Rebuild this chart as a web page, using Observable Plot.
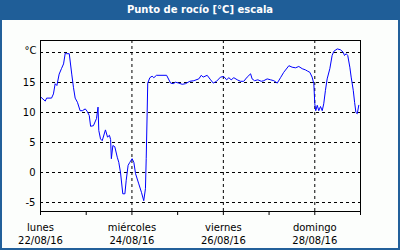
<!DOCTYPE html>
<html>
<head>
<meta charset="utf-8">
<script src="https://cdn.jsdelivr.net/npm/d3@7"></script>
<script src="https://cdn.jsdelivr.net/npm/@observablehq/plot@0.6"></script>
<style>
  html, body { margin: 0; padding: 0; background: #fff; }
  #frame { position: absolute; left: 0; top: 0; width: 400px; height: 250px; box-sizing: border-box;
           border: 2px solid #22609a; background: #fcfefc; }
  #title { position: absolute; left: 0; top: 0; width: 400px; height: 20px; background: #1f5e98;
           color: #fff; font: bold 10px "DejaVu Sans"; line-height: 20px; text-align: center; }
  #chart { position: absolute; left: 0; top: 20px; }
</style>
</head>
<body>
<div id="frame"></div>
<div id="title">Punto de rocío [°C] escala</div>
<div id="chart"></div>
<script>
// Hours since 22/08/16 00:00 and dew point values (°C)
const hours = [0.4, 2.5, 3.2, 5.8, 6.8, 7.7, 8.6, 9.8, 11, 12.1, 13, 13.7, 15.1, 16.4, 17.3, 18.2, 19.4, 20.8, 22, 23.5,
  24.5, 25.6, 26.3, 27.8, 29.4, 30.2, 30.6, 31.5, 32.4, 34.1, 35.2, 36.2, 36.8, 37.2, 38.0, 39.0, 40.3, 41.1, 42, 43.2,
  44.3, 45, 46, 46.9, 48.1, 49, 49.9, 51.6, 53, 54.2, 55.1, 55.5, 56, 56.3, 57.4, 58.6, 59.5, 60.9, 66.2, 68.3,
  69.7, 70.9, 72.6, 74.4, 76.1, 78.4, 80.5, 83.1, 84.4, 85.4, 87.5, 89.3, 90.7, 92.4, 94.5, 96.2, 97.7, 98.9, 100.1, 101.5,
  103.3, 105, 106.7, 108.5, 110.3, 111.1, 112.4, 114.1, 115.9, 117.2, 119, 120.8, 122.5, 124.3, 126, 127.7, 130.4, 132.1, 133.9, 135.6,
  137.4, 139.1, 140.2, 141.4, 142.6, 143.5, 144, 144.5, 145.3, 146.1, 147, 147.9, 148.7, 149.6, 150.5, 151.9, 153.1, 154, 155.8, 157.5,
  158.9, 159.6, 160.5, 161.3, 162.4, 163.1, 164.2, 164.9, 165.6, 166.3, 167.1];
const values = [12.5, 11.9, 12.4, 12.4, 13.1, 14.8, 14.5, 16.4, 17.3, 18.1, 19.9, 19.8, 19.8, 16.4, 14.2, 12.4, 11.7, 10.3, 10.3, 10.6,
  10.2, 9.5, 7.7, 7.8, 9.0, 10.9, 7.0, 5.6, 5.3, 7.1, 5.9, 6.2, 5.5, 2.3, 4.5, 4.3, 2.55, 1.7, 0, -3.55,
  -3.55, -1.3, 1.2, 1.7, 2.3, 1.7, -0.2, -1.9, -3.3, -4.7, -2.7, 2.3, 10.0, 14.9, 15.8, 16.05, 15.8, 16.2, 16.2, 14.9,
  14.8, 15.05, 14.9, 14.7, 14.8, 15.2, 15.3, 15.6, 16.2, 15.9, 16.2, 15.45, 14.9, 15.2, 15.9, 16.0, 15.45, 15.8, 15.45, 15.8,
  15.45, 15.2, 15.2, 15.9, 16.45, 15.6, 15.3, 15.45, 15.2, 15.3, 15.6, 15.45, 15.3, 14.9, 15.8, 16.7, 17.8, 17.55, 17.45, 17.67,
  17.3, 17.1, 16.9, 16.7, 15.9, 14.8, 11.45, 10.3, 11.2, 10.3, 11.0, 10.3, 11.45, 13.7, 15.6, 17.3, 19.5, 20.2, 20.6, 20.45,
  20.05, 19.5, 19.8, 19.5, 17.55, 15.9, 13.7, 11.7, 10.0, 9.8, 11.2];

const weekdays = ["lunes", "miércoles", "viernes", "domingo"];
const dates = ["22/08/16", "24/08/16", "26/08/16", "28/08/16"];
const gridTicks = [-5, 0, 5, 10, 15, 20];
const yLabelTicks = [-5, 0, 5, 10, 15];

const t0 = Date.UTC(2016, 7, 22);
const day = 86400e3;
const data = hours.map((h, i) => ({date: new Date(t0 + h * 3600e3), v: values[i]}));
const allDays = d3.range(0, 8).map(k => new Date(t0 + k * day));
const labelDays = [0, 2, 4, 6].map(k => new Date(t0 + k * day));
const gridDays = [2, 4, 6].map(k => new Date(t0 + k * day));
const wdMap = new Map(labelDays.map((d, i) => [+d, weekdays[i]]));
const dtMap = new Map(labelDays.map((d, i) => [+d, dates[i]]));

const chart = Plot.plot({
  width: 400,
  height: 230,
  marginTop: 20,
  marginLeft: 40,
  marginRight: 40,
  marginBottom: 39,
  x: {type: "utc", domain: [new Date(t0), new Date(t0 + 7 * day)]},
  y: {domain: [-6.5, 22]},
  style: {background: "transparent", fontFamily: "DejaVu Sans", fontSize: "10px", color: "#000"},
  marks: [
    Plot.gridY(gridTicks, {stroke: "#000", strokeOpacity: 1, strokeDasharray: "3,3"}),
    Plot.gridX(gridDays, {stroke: "#000", strokeOpacity: 1, strokeDasharray: "3,3"}),
    Plot.line(data, {x: "date", y: "v", stroke: "#0000ff", strokeWidth: 1}),
    Plot.frame({stroke: "#000"}),
    Plot.axisY(yLabelTicks, {tickSize: 0, tickPadding: 5, label: null, tickFormat: d => String(d)}),
    Plot.text(["°C"], {frameAnchor: "top-left", dx: -4, dy: 6, textAnchor: "end"}),
    Plot.axisX(allDays, {tickSize: 4, tickFormat: () => "", label: null}),
    Plot.axisX(labelDays, {tickSize: 0, tickPadding: 12, label: null, tickFormat: d => wdMap.get(+d)}),
    Plot.axisX(labelDays, {tickSize: 0, tickPadding: 25, label: null, tickFormat: d => dtMap.get(+d)})
  ]
});
document.getElementById("chart").appendChild(chart);
</script>
</body>
</html>
